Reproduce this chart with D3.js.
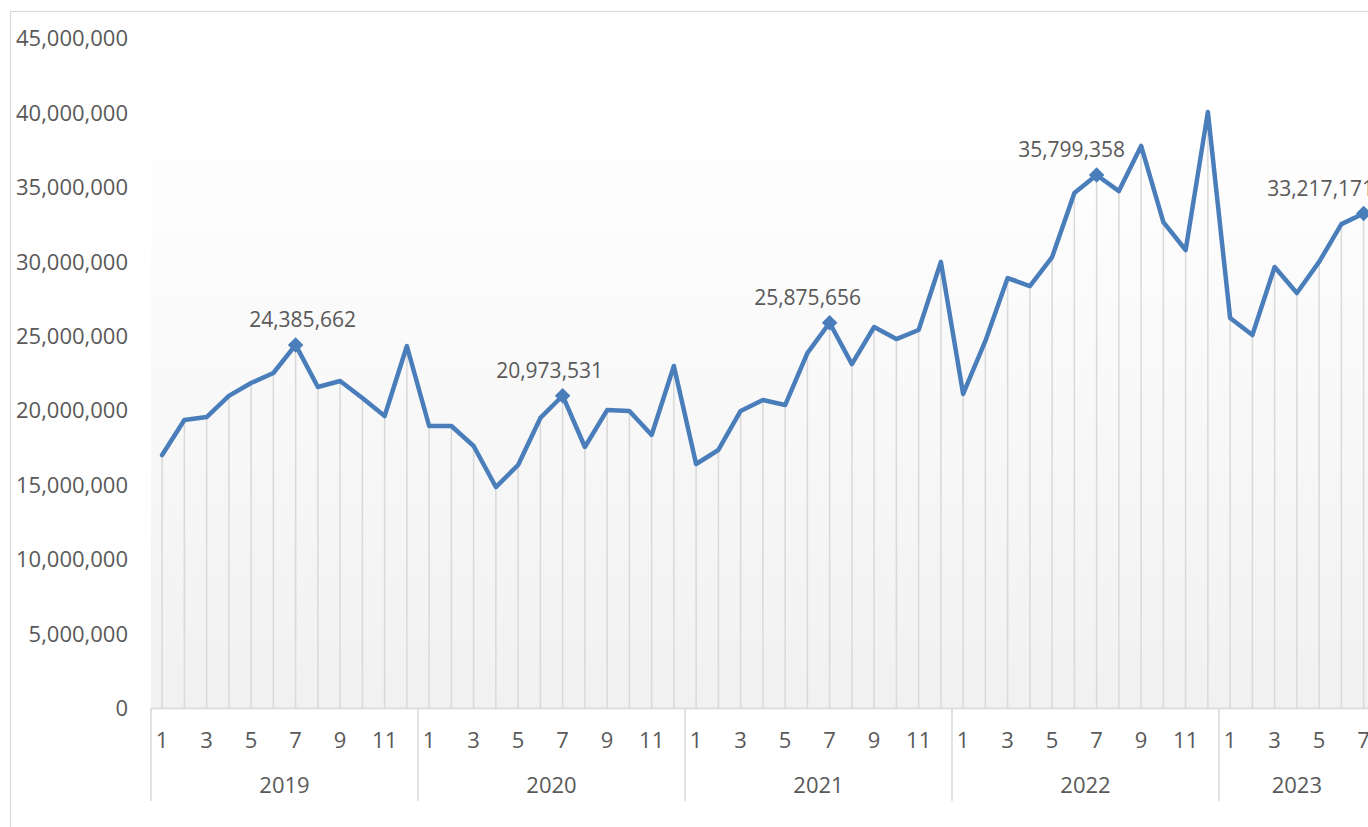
<!DOCTYPE html>
<html>
<head>
<meta charset="utf-8">
<script src="https://d3js.org/d3.v7.min.js"></script>
<style>
  body { margin: 0; background: #fff; }
  text { font-family: "Open Sans", "Noto Sans", sans-serif; fill: #595959; }
</style>
</head>
<body>
<svg id="chart" width="1368" height="827"></svg>
<script>
// data (monthly values, 2019-01 .. 2023-07)
const years = [2019, 2020, 2021, 2022, 2023];
const monthsPerYear = [12, 12, 12, 12, 7];
const values = [
  // 2019
  16990000, 19340000, 19540000, 20960000, 21830000, 22500000, 24385662, 21560000, 21960000, 20820000, 19610000, 24310000,
  // 2020
  18940000, 18940000, 17600000, 14840000, 16320000, 19480000, 20973531, 17530000, 20010000, 19950000, 18340000, 22970000,
  // 2021
  16390000, 17330000, 19950000, 20690000, 20350000, 23840000, 25875656, 23100000, 25590000, 24780000, 25390000, 29960000,
  // 2022
  21090000, 24650000, 28880000, 28340000, 30290000, 34590000, 35799358, 34720000, 37750000, 32640000, 30760000, 40030000,
  // 2023
  26190000, 25050000, 29620000, 27870000, 29960000, 32500000, 33217171
];
const yTicks = [0, 5000000, 10000000, 15000000, 20000000, 25000000, 30000000, 35000000, 40000000, 45000000];
// which points get a marker + label (July each year)
const labelled = [6, 18, 30, 42, 54];
const labelDx = [7, -13, -22, -25, -43]; // hand-placed offsets like in the original

// build rows
const rows = [];
years.forEach((yr, yi) => {
  for (let m = 1; m <= monthsPerYear[yi]; m++) {
    rows.push({ year: yr, month: m, value: values[rows.length] });
  }
});
rows.forEach((d, i) => d.i = i);

const svg = d3.select("#chart");
const plotLeft = 151, plotBottom = 708, plotTop = 38;
const step = 22.25;

const x = d3.scaleBand()
  .domain(rows.map(d => d.i))
  .range([plotLeft, plotLeft + rows.length * step])
  .padding(0);
const y = d3.scaleLinear().domain([0, 45000000]).range([plotBottom, plotTop]);
const cx = i => x(i) + x.bandwidth() / 2;

// outer chart border
svg.append("rect")
  .attr("x", 10.5).attr("y", 11.5)
  .attr("width", 1400).attr("height", 900)
  .attr("fill", "none").attr("stroke", "#d9d9d9").attr("stroke-width", 1.2);

// plot area gradient
const grad = svg.append("defs").append("linearGradient")
  .attr("id", "bg").attr("x1", 0).attr("y1", 0).attr("x2", 0).attr("y2", 1);
grad.append("stop").attr("offset", "0").attr("stop-color", "#ffffff");
grad.append("stop").attr("offset", "0.12").attr("stop-color", "#ffffff");
grad.append("stop").attr("offset", "1").attr("stop-color", "#f1f1f1");

svg.append("rect")
  .attr("x", plotLeft).attr("y", plotTop)
  .attr("width", rows.length * step).attr("height", plotBottom - plotTop)
  .attr("fill", "url(#bg)");

// y axis
const yAxis = svg.append("g")
  .attr("transform", "translate(128,0)")
  .call(d3.axisLeft(y).tickValues(yTicks).tickFormat(d3.format(",")).tickSize(0).tickPadding(0));
yAxis.select(".domain").remove();
yAxis.selectAll("text").style("font-size", "22px").attr("fill", "#595959").attr("dy", "0.35em");

// drop lines
svg.append("g").selectAll("line")
  .data(rows)
  .join("line")
  .attr("x1", d => cx(d.i)).attr("x2", d => cx(d.i))
  .attr("y1", d => y(d.value)).attr("y2", plotBottom)
  .attr("stroke", "#d9d9d9").attr("stroke-width", 1.5);

// category axis line
svg.append("line")
  .attr("x1", plotLeft).attr("x2", 1368)
  .attr("y1", plotBottom + 0.5).attr("y2", plotBottom + 0.5)
  .attr("stroke", "#d9d9d9").attr("stroke-width", 1.5);

// year separators
const yearStart = [];
let acc = 0;
monthsPerYear.forEach(n => { yearStart.push(acc); acc += n; });
svg.append("g").selectAll("line")
  .data(yearStart)
  .join("line")
  .attr("x1", s => x(s)).attr("x2", s => x(s))
  .attr("y1", plotBottom).attr("y2", 801)
  .attr("stroke", "#d9d9d9").attr("stroke-width", 1.5);

// month labels
const xAxis = svg.append("g")
  .attr("transform", `translate(0,${plotBottom})`)
  .call(d3.axisBottom(x)
    .tickValues(rows.filter(d => d.month % 2 === 1).map(d => d.i))
    .tickFormat(i => rows[i].month)
    .tickSize(0).tickPadding(0));
xAxis.select(".domain").remove();
xAxis.selectAll("text").style("font-size", "22px").attr("fill", "#595959")
  .attr("y", 32).attr("dy", "0.35em");

// year labels
svg.append("g").selectAll("text")
  .data(years)
  .join("text")
  .attr("x", (yr, k) => x(yearStart[k]) + monthsPerYear[k] * step / 2)
  .attr("y", 785)
  .attr("dy", "0.35em")
  .attr("text-anchor", "middle")
  .style("font-size", "22px")
  .text(yr => yr);

// line
svg.append("path")
  .datum(rows)
  .attr("fill", "none")
  .attr("stroke", "#4a7ebb")
  .attr("stroke-width", 4.5)
  .attr("stroke-linejoin", "round")
  .attr("stroke-linecap", "round")
  .attr("d", d3.line().x(d => cx(d.i)).y(d => y(d.value)));

// markers
svg.append("g").selectAll("path")
  .data(labelled)
  .join("path")
  .attr("transform", i => `translate(${cx(i)},${y(rows[i].value)}) rotate(45)`)
  .attr("d", "M-5.5,-5.5H5.5V5.5H-5.5Z")
  .attr("fill", "#4a7ebb");

// data labels
svg.append("g").selectAll("text")
  .data(labelled)
  .join("text")
  .attr("x", (i, k) => cx(i) + labelDx[k])
  .attr("y", i => y(rows[i].value) - 25)
  .attr("dy", "0.35em")
  .attr("text-anchor", "middle")
  .style("font-size", "21px")
  .text(i => d3.format(",")(rows[i].value));
</script>
</body>
</html>
